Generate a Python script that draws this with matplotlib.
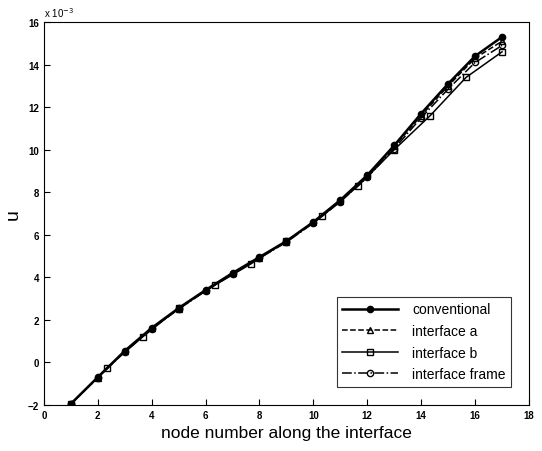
import numpy as np
import matplotlib
matplotlib.use("Agg")
import matplotlib.pyplot as plt

plt.rcParams['font.family'] = ['Liberation Sans', 'DejaVu Sans']

# node positions
nodes = np.arange(1, 18)
nodes_b = np.linspace(1, 17, 13)

# displacement values (x 1e-3)
u_conv = [-1.95, -0.7, 0.54, 1.62, 2.55, 3.4, 4.2, 4.95, 5.7, 6.6, 7.63, 8.8, 10.2, 11.7, 13.1, 14.4, 15.3]
u_a = [-1.95, -0.72, 0.52, 1.6, 2.52, 3.38, 4.18, 4.93, 5.68, 6.58, 7.6, 8.75, 10.15, 11.6, 13.0, 14.3, 15.1]
u_b = [-1.95, -0.26, 1.2, 2.55, 3.62, 4.62, 5.7, 6.88, 8.3, 10.0, 11.6, 13.4, 14.6]
u_frame = [-1.95, -0.72, 0.5, 1.58, 2.5, 3.36, 4.15, 4.9, 5.65, 6.55, 7.55, 8.7, 10.05, 11.5, 12.85, 14.1, 14.9]

fig = plt.figure(figsize=(5.42, 4.52), dpi=100)
ax = fig.add_axes([0.081, 0.102, 0.895, 0.847])

ax.plot(nodes, u_conv, color='black', lw=1.8, marker='o', ms=4.5, label='conventional')
ax.plot(nodes, u_a, color='black', lw=1.1, ls='--', marker='^', ms=4.5, mfc='none', label='interface a')
ax.plot(nodes_b, u_b, color='black', lw=1.1, ls='-', marker='s', ms=4.5, mfc='none', label='interface b')
ax.plot(nodes, u_frame, color='black', lw=1.1, ls='-.', marker='o', ms=4.5, mfc='none', label='interface frame')

ax.set_xlim(0, 18)
ax.set_ylim(-2, 16)
ax.set_xticks(np.arange(0, 19, 2))
ax.set_yticks(np.arange(-2, 17, 2))
ax.tick_params(direction='in', length=4, labelsize=7)
for lab in ax.get_xticklabels() + ax.get_yticklabels():
    lab.set_fontweight('bold')
ax.text(0.0, 1.008, r'x 10$^{-3}$', transform=ax.transAxes, fontsize=7, va='bottom')

ax.set_xlabel('node number along the interface', fontsize=12.5)
ax.set_ylabel('u', fontsize=14, rotation=90)

leg = ax.legend(loc='lower right', fontsize=10, frameon=True, fancybox=False,
                edgecolor='black', handlelength=4, handletextpad=1.0,
                borderaxespad=1.3, labelspacing=0.55)
leg.get_frame().set_linewidth(0.8)

plt.savefig('out.png', dpi=100)
